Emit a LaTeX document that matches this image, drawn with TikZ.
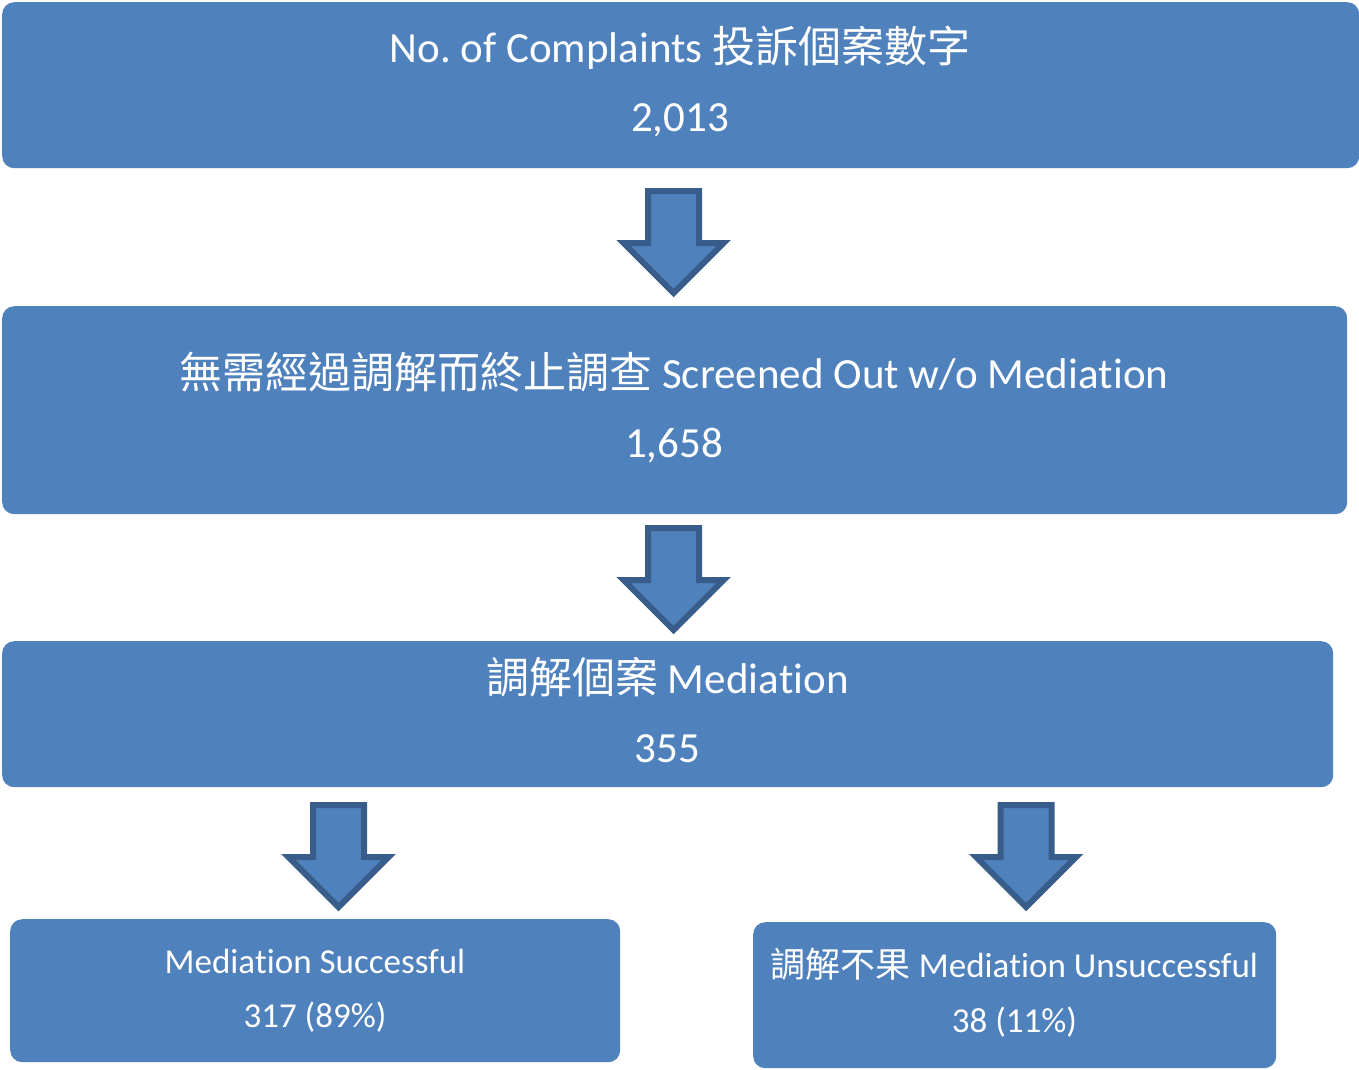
\documentclass[tikz,border=0pt]{standalone}
\usepackage{fontspec}
\setmainfont{Carlito}[Ligatures={NoCommon,NoContextual,NoRare}, RawFeature={-calt;-liga;-dlig}]
\newfontfamily\cjk{Noto Sans CJK TC}
\definecolor{boxblue}{HTML}{4F81BD}
\definecolor{arrowedge}{HTML}{385D8A}
\newcommand\medword{Media\kern0pt tion}
\frenchspacing
\begin{document}
\begin{tikzpicture}[x=1pt,y=-1pt,
  box/.style={fill=boxblue, draw=none, rounded corners=12pt, anchor=north west, inner sep=0pt},
  bigtext/.style={text=white, font=\fontsize{43}{50}\selectfont, anchor=base, inner sep=0pt},
  smalltext/.style={text=white, font=\fontsize{35}{42}\selectfont, anchor=base, inner sep=0pt},
  arrowstyle/.style={fill=boxblue, draw=arrowedge, line width=6pt, line join=miter},
  downarrow/.pic={\path[arrowstyle] (-25.5,3) -- (25.5,3) -- (25.5,55) -- (50,55) -- (0,105) -- (-50,55) -- (-25.5,55) -- cycle;}]
\useasboundingbox (0,0) rectangle (1359,1069);
% boxes
\node[box, minimum width=1357pt, minimum height=166pt] (b1) at (2,2) {};
\node[box, minimum width=1345pt, minimum height=208pt] (b2) at (2,306) {};
\node[box, minimum width=1331pt, minimum height=146pt] (b3) at (2,641) {};
\node[box, minimum width=610pt, minimum height=143pt] (b4) at (10,919) {};
\node[box, minimum width=523pt, minimum height=146pt] (b5) at (753,922) {};
% texts
\node[bigtext] (t1a) at (680,62) {No. of Complaints {\cjk 投訴個案數字}};
\node[bigtext] (t1b) at (680,131) {2,013};
\node[bigtext] (t2a) at (674,388) {{\cjk 無需經過調解而終止調查} Screened Out w/o \medword};
\node[bigtext] (t2b) at (674,457) {1,658};
\node[bigtext] (t3a) at (667.5,693) {{\cjk 調解個案} \medword};
\node[bigtext] (t3b) at (667.5,762) {355};
\node[smalltext] (t4a) at (315,973) {\medword\ Successful};
\node[smalltext] (t4b) at (315,1027) {317 (89\%)};
\node[smalltext] (t5a) at (1014.5,977) {{\cjk 調解不果} \medword\ Unsuccessful};
\node[smalltext] (t5b) at (1014.5,1032) {38 (11\%)};
% arrows
\pic (a1) at (673.5,188) {downarrow};
\pic (a2) at (673.5,525) {downarrow};
\pic (a3) at (338.5,802) {downarrow};
\pic (a4) at (1026,802) {downarrow};
\end{tikzpicture}
\end{document}
